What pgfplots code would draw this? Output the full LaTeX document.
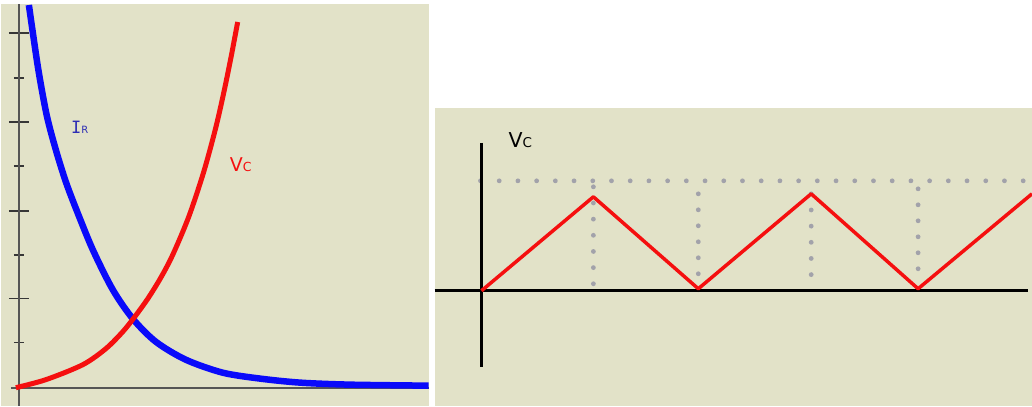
\documentclass[border=0pt]{standalone}
\usepackage{fontspec}
\setmainfont{DejaVu Sans}
\newfontfamily\monof{DejaVu Sans Mono}
\usepackage{pgfplots}
\pgfplotsset{compat=1.18}
\definecolor{beige}{RGB}{226,226,200}
\definecolor{dotgray}{RGB}{162,162,170}
\definecolor{axgray}{RGB}{85,85,85}
\definecolor{tickgray}{RGB}{55,55,55}
\definecolor{lblue}{RGB}{45,45,180}
\definecolor{cblue}{RGB}{10,10,250}
\definecolor{cred}{RGB}{245,15,15}
\begin{document}
\begin{tikzpicture}[x=1pt,y=1pt]
\fill[white] (0,0) rectangle (1032,406);
% ---------------- left panel ----------------
\begin{axis}[at={(0pt,0pt)}, anchor=south west, scale only axis,
  width=428pt, height=402pt,
  xmin=-18, xmax=410, ymin=-18, ymax=384,
  axis background/.style={fill=beige},
  axis lines=middle, axis line style={-, axgray, line width=1.8pt},
  x axis line style={shorten <=10pt},
  xtick=\empty, ytick={89,177,266,355}, minor ytick={45,133,222,310},
  yticklabels={}, xticklabels={}, tick align=center,
  major tick length=20pt, minor tick length=10pt,
  tick style={tickgray, line width=1.5pt}]
\addplot[cblue, line width=6.5pt, smooth, tension=0.5] coordinates {
 (10,383) (14,355) (20,315) (28,272) (37,238) (47,206) (58,177) (74,138)
 (94,98) (114,69) (137,46) (167,28) (204,15) (242,9) (282,5) (332,3) (410,2)};
\addplot[cred, line width=5pt, smooth, tension=0.5] coordinates {
 (-3,0) (27,8) (64,23) (87,39) (104,56) (116,71) (129,89) (142,110)
 (154,133) (170,171) (185,216) (197,260) (205,295) (212,329) (219,366)};
\node[anchor=base west, inner sep=0, text=lblue] at (axis cs:52,254)
  {\monof\fontsize{17pt}{18pt}\selectfont I\rmfamily\fontsize{10pt}{11pt}\selectfont R};
\node[anchor=base west, inner sep=0, text=cred] at (axis cs:211,216)
  {\fontsize{19pt}{21pt}\selectfont V\fontsize{12.5pt}{14pt}\selectfont C};
\end{axis}
% ---------------- right panel ----------------
\begin{axis}[at={(434pt,0pt)}, anchor=south west, scale only axis,
  width=598pt, height=298pt,
  xmin=-47, xmax=551, ymin=-115, ymax=183,
  axis lines=none, axis background/.style={fill=beige}]
\addplot[dotgray, line width=4.8pt, line cap=round, dash pattern=on 0pt off 18.73pt]
  coordinates {(-1,110) (551,110)};
\addplot[dotgray, line width=4.8pt, line cap=round, dash pattern=on 0pt off 16.17pt]
  coordinates {(112,104) (112,6)};
\addplot[dotgray, line width=4.8pt, line cap=round, dash pattern=on 0pt off 16pt]
  coordinates {(217,97) (217,0)};
\addplot[dotgray, line width=4.8pt, line cap=round, dash pattern=on 0pt off 16.17pt]
  coordinates {(330,97) (330,0)};
\addplot[dotgray, line width=4.8pt, line cap=round, dash pattern=on 0pt off 16pt]
  coordinates {(437,102) (437,6)};
\addplot[black, line width=3pt] coordinates {(-47,0) (547,0)};
\addplot[black, line width=3pt] coordinates {(0,148) (0,-76)};
\addplot[cred, line width=3.5pt, line join=round] coordinates {
 (0,0) (112,94) (217,2) (330,97) (437,2) (551,97)};
\node[anchor=base west, inner sep=0, text=black] at (axis cs:27,143)
  {\fontsize{20.5pt}{22pt}\selectfont V\fontsize{13.5pt}{15pt}\selectfont C};
\end{axis}
\end{tikzpicture}
\end{document}
